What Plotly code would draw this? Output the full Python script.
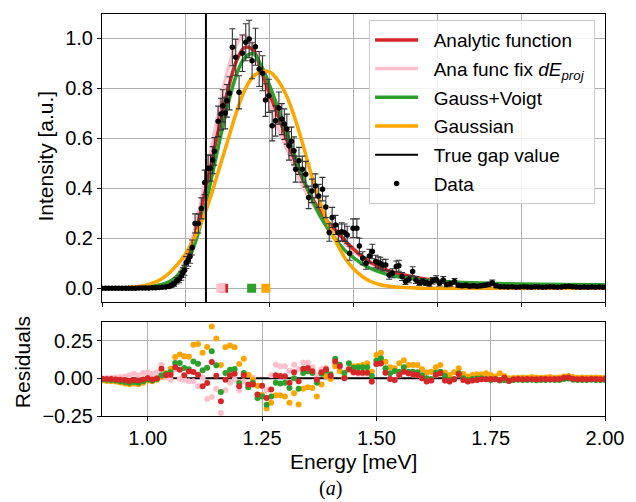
import plotly.graph_objects as go

# ---------------- data (main panel) ----------------
data_energy = [0.800, 0.808, 0.816, 0.824, 0.832, 0.840, 0.848, 0.856, 0.864, 0.872, 0.880, 0.888,
               0.896, 0.904, 0.912, 0.920, 0.928, 0.936, 0.944, 0.952, 0.960, 0.966, 0.972, 0.978,
               0.984, 0.989, 0.993, 0.997, 1.001, 1.006, 1.010, 1.015, 1.022, 1.030, 1.037, 1.045,
               1.053, 1.059, 1.064, 1.068, 1.077, 1.084, 1.088, 1.094, 1.098, 1.104, 1.111, 1.119,
               1.127, 1.135, 1.143, 1.151, 1.158, 1.166, 1.175, 1.183, 1.190, 1.198, 1.206, 1.214,
               1.222, 1.229, 1.235, 1.241, 1.246, 1.252, 1.258, 1.262, 1.270, 1.278, 1.286, 1.293,
               1.301, 1.309, 1.317, 1.326, 1.334, 1.342, 1.349, 1.357, 1.364, 1.372, 1.379, 1.385,
               1.391, 1.399, 1.408, 1.414, 1.422, 1.430, 1.438, 1.445, 1.453, 1.459, 1.464, 1.470,
               1.477, 1.485, 1.493, 1.502, 1.508, 1.516, 1.524, 1.532, 1.541, 1.549, 1.557, 1.565,
               1.573, 1.581, 1.589, 1.597, 1.605, 1.614, 1.622, 1.631, 1.641, 1.650, 1.659, 1.668,
               1.677, 1.686, 1.695, 1.704, 1.713, 1.722, 1.731, 1.740, 1.750, 1.760, 1.769, 1.779,
               1.788, 1.797, 1.806, 1.815, 1.824, 1.833, 1.842, 1.851, 1.860, 1.869, 1.878, 1.887,
               1.896, 1.905, 1.914, 1.923, 1.932, 1.941, 1.950, 1.959, 1.968, 1.977, 1.986, 1.995]
data_intensity = [0.000, 0.000, 0.000, 0.000, 0.000, 0.000, 0.000, 0.000, 0.000, 0.000, 0.000, 0.001,
                  0.001, 0.001, 0.001, 0.002, 0.002, 0.003, 0.004, 0.005, 0.007, 0.012, 0.018, 0.030,
                  0.036, 0.049, 0.063, 0.072, 0.103, 0.113, 0.127, 0.163, 0.259, 0.259, 0.319, 0.423,
                  0.480, 0.480, 0.512, 0.547, 0.667, 0.696, 0.729, 0.700, 0.749, 0.779, 0.963, 0.923,
                  0.783, 0.939, 0.983, 0.996, 0.909, 0.965, 0.876, 0.859, 0.752, 0.769, 0.649, 0.669,
                  0.720, 0.676, 0.656, 0.636, 0.569, 0.587, 0.549, 0.476, 0.509, 0.476, 0.456, 0.363,
                  0.389, 0.409, 0.369, 0.396, 0.325, 0.223, 0.283, 0.253, 0.222, 0.226, 0.222, 0.213,
                  0.140, 0.240, 0.240, 0.169, 0.120, 0.100, 0.129, 0.147, 0.107, 0.102, 0.100, 0.093,
                  0.093, 0.053, 0.060, 0.087, 0.090, 0.047, 0.027, 0.036, 0.067, 0.033, 0.022, 0.027,
                  0.022, 0.018, 0.030, 0.036, 0.020, 0.033, 0.015, 0.018, 0.027, 0.012, 0.010, 0.012,
                  0.008, 0.010, 0.008, 0.010, 0.012, 0.015, 0.022, 0.010, 0.006, 0.006, 0.005, 0.006,
                  0.004, 0.005, 0.006, 0.005, 0.004, 0.006, 0.005, 0.004, 0.005, 0.006, 0.005, 0.004,
                  0.005, 0.007, 0.008, 0.006, 0.005, 0.004, 0.005, 0.004, 0.005, 0.004, 0.005, 0.004]
data_error = [0.003, 0.003, 0.003, 0.003, 0.003, 0.003, 0.003, 0.003, 0.003, 0.003, 0.003, 0.003,
              0.003, 0.003, 0.003, 0.004, 0.004, 0.004, 0.005, 0.005, 0.006, 0.008, 0.010, 0.013,
              0.014, 0.017, 0.019, 0.020, 0.024, 0.025, 0.027, 0.030, 0.038, 0.038, 0.042, 0.049,
              0.052, 0.052, 0.054, 0.055, 0.061, 0.063, 0.064, 0.063, 0.065, 0.066, 0.074, 0.072,
              0.066, 0.073, 0.074, 0.075, 0.072, 0.074, 0.070, 0.070, 0.065, 0.066, 0.060, 0.061,
              0.064, 0.062, 0.061, 0.060, 0.057, 0.057, 0.056, 0.052, 0.054, 0.052, 0.051, 0.045,
              0.047, 0.048, 0.046, 0.047, 0.043, 0.035, 0.040, 0.038, 0.035, 0.036, 0.035, 0.035,
              0.028, 0.037, 0.037, 0.031, 0.026, 0.024, 0.027, 0.029, 0.025, 0.024, 0.024, 0.023,
              0.023, 0.017, 0.018, 0.022, 0.022, 0.016, 0.012, 0.014, 0.019, 0.014, 0.011, 0.012,
              0.011, 0.010, 0.013, 0.014, 0.011, 0.014, 0.009, 0.010, 0.012, 0.008, 0.008, 0.008,
              0.007, 0.008, 0.007, 0.008, 0.008, 0.009, 0.011, 0.008, 0.006, 0.006, 0.005, 0.006,
              0.005, 0.005, 0.006, 0.005, 0.005, 0.006, 0.005, 0.005, 0.005, 0.006, 0.005, 0.005,
              0.005, 0.006, 0.006, 0.006, 0.005, 0.005, 0.005, 0.005, 0.005, 0.005, 0.005, 0.005]

# ---------------- fitted curves (sampled) ----------------
fit_energy = [0.80, 0.85, 0.90, 0.92, 0.94, 0.96, 0.98, 1.00, 1.02, 1.04, 1.06, 1.08, 1.10, 1.12,
              1.14, 1.16, 1.18, 1.20, 1.22, 1.24, 1.26, 1.28, 1.30, 1.32, 1.34, 1.36, 1.38, 1.40,
              1.42, 1.44, 1.46, 1.48, 1.50, 1.55, 1.60, 1.65, 1.70, 1.80, 1.90, 2.00]
fit_analytic = [0.000, 0.000, 0.002, 0.005, 0.010, 0.020, 0.045, 0.100, 0.200, 0.340, 0.490, 0.650,
                0.790, 0.905, 0.962, 0.952, 0.870, 0.777, 0.690, 0.597, 0.510, 0.433, 0.366, 0.308,
                0.262, 0.228, 0.190, 0.157, 0.128, 0.104, 0.087, 0.072, 0.062, 0.043, 0.030, 0.022,
                0.017, 0.012, 0.010, 0.009]
fit_ana_fix = [0.000, 0.000, 0.002, 0.006, 0.012, 0.024, 0.053, 0.118, 0.228, 0.378, 0.552, 0.722,
               0.872, 0.972, 1.012, 0.968, 0.862, 0.745, 0.640, 0.560, 0.482, 0.405, 0.343, 0.288,
               0.248, 0.215, 0.180, 0.150, 0.123, 0.100, 0.084, 0.070, 0.060, 0.042, 0.029, 0.021,
               0.016, 0.011, 0.009, 0.008]
fit_gauss_voigt = [0.000, 0.001, 0.004, 0.008, 0.014, 0.026, 0.050, 0.095, 0.170, 0.285, 0.430, 0.585,
                   0.730, 0.850, 0.920, 0.938, 0.890, 0.810, 0.720, 0.625, 0.530, 0.440, 0.360, 0.290,
                   0.235, 0.190, 0.150, 0.122, 0.098, 0.080, 0.066, 0.056, 0.048, 0.036, 0.029, 0.024,
                   0.021, 0.017, 0.015, 0.014]
fit_gaussian = [0.000, 0.002, 0.010, 0.020, 0.035, 0.060, 0.095, 0.140, 0.200, 0.275, 0.370, 0.480,
                0.590, 0.700, 0.790, 0.845, 0.866, 0.865, 0.830, 0.770, 0.680, 0.570, 0.450, 0.345,
                0.255, 0.180, 0.120, 0.078, 0.048, 0.028, 0.016, 0.009, 0.005, 0.001, 0.000, 0.000,
                0.000, 0.000, 0.000, 0.000]

true_gap = 1.048
gap_names = ["Analytic function", "Ana func fix", "Gauss+Voigt", "Gaussian"]
gap_fitted = [1.090, 1.0835, 1.157, 1.191]

# ---------------- residuals ----------------
res_energy = [round(0.90 + 0.01 * i, 2) for i in range(111)]
res_gaussian = [-0.015, -0.018, -0.020, -0.022, -0.028, -0.035, -0.040, -0.035, -0.040, -0.030, -0.015, -0.020, -0.010,
                0.010, 0.035, 0.064, 0.141, 0.157, 0.146, 0.143, 0.223, 0.227, 0.170, 0.207, 0.344, 0.263, 0.088, 0.205, 0.218, 0.205,
                0.095, 0.130, 0.024, -0.010, -0.050, -0.110, -0.200, -0.163, -0.112, -0.112, -0.120, -0.163, -0.100, -0.174, -0.069, -0.060, -0.064, -0.120, -0.042, 0.013, -0.004,
                0.080, 0.046, 0.010, 0.060, 0.080, 0.082, 0.088, 0.100, 0.044, 0.154, 0.170, 0.110, 0.073, 0.066, 0.100, 0.120, 0.088, 0.088, 0.088, 0.060, 0.038, 0.044, 0.073, 0.088, 0.038, 0.022, 0.040, 0.066, 0.029,
                0.011, 0.022, 0.026, 0.026, 0.033, 0.022, 0.011, 0.033, 0.015, 0.000,
                0.002, 0.004, 0.006, 0.004, 0.008, 0.005, 0.004, 0.006, 0.008, 0.004, 0.006, 0.012, 0.015, 0.008, 0.004, 0.006, 0.004, 0.005, 0.006, 0.004, 0.005]
res_gauss_voigt = [-0.008, -0.010, -0.012, -0.015, -0.020, -0.025, -0.030, -0.025, -0.030, -0.020, -0.008, -0.015, -0.005,
                   0.020, 0.029, 0.042, 0.101, 0.101, 0.068, 0.060, 0.112, 0.097, 0.053, 0.070, 0.179, 0.086, -0.091, 0.035, 0.057, 0.062,
                   -0.031, 0.035, -0.060, -0.030, -0.130, -0.120, -0.175, -0.120, -0.030, -0.035, -0.030, -0.065, 0.000, -0.070, 0.035, 0.046, 0.035, -0.030, 0.030, 0.050, 0.025,
                   0.130, 0.090, 0.035, 0.100, 0.070, 0.073, 0.073, 0.073, 0.015, 0.117, 0.132, 0.066, 0.033, 0.049, 0.044, 0.073, 0.044, 0.044, 0.040, 0.020, 0.000, -0.004, 0.037, 0.044, 0.015, -0.011, -0.007, 0.033, 0.000,
                   -0.011, -0.004, -0.002, 0.000, -0.004, -0.011, -0.004, -0.015, -0.011, -0.015,
                   -0.011, -0.010, -0.012, -0.011, -0.010, -0.013, -0.012, -0.011, -0.010, -0.012, -0.011, -0.004, -0.002, -0.010, -0.012, -0.011, -0.012, -0.010, -0.011, -0.012, -0.011]
res_analytic = [-0.003, -0.005, -0.005, -0.008, -0.010, -0.012, -0.018, -0.012, -0.015, -0.008, 0.002, -0.008, 0.000,
                0.064, 0.020, 0.024, 0.073, 0.057, 0.020, 0.046, 0.042, 0.024, -0.053, -0.031, 0.108, 0.017, -0.152, -0.009, 0.020, 0.030,
                -0.053, 0.020, -0.042, -0.042, -0.108, -0.050, -0.130, -0.075, 0.020, 0.015, 0.013, -0.030, 0.040, -0.020, 0.064, 0.068, 0.046, -0.010, 0.040, 0.060, 0.015,
                0.112, 0.080, 0.000, 0.060, 0.040, 0.037, 0.037, 0.037, -0.022, 0.095, 0.099, 0.037, -0.004, -0.011, 0.022, 0.044, 0.033, 0.026, 0.022, 0.000, -0.022, -0.015, 0.022, 0.033, -0.015, -0.022, -0.007, 0.026, -0.011,
                -0.022, -0.015, -0.011, -0.007, -0.007, -0.004, -0.007, -0.011, 0.004, -0.018,
                -0.007, -0.005, -0.006, -0.004, -0.006, -0.007, -0.005, -0.004, -0.006, -0.005, -0.004, 0.004, 0.006, -0.003, -0.006, -0.005, -0.006, -0.004, -0.005, -0.006, -0.005]
res_ana_fix = [0.000, 0.002, 0.004, 0.005, 0.008, 0.012, 0.020, 0.030, 0.020, 0.035, 0.042, 0.030, 0.040,
               0.090, 0.010, -0.010, 0.057, -0.005, -0.009, -0.020, -0.020, -0.053, 0.006, -0.137, -0.124, -0.071, -0.230, -0.080, -0.030, -0.010,
               -0.080, -0.020, -0.060, 0.006, -0.050, -0.050, -0.080, 0.020, 0.090, 0.080, 0.080, 0.050, 0.090, 0.060, 0.105, 0.105, 0.073, 0.020, 0.060, 0.070, 0.030,
               0.100, 0.075, 0.000, 0.055, 0.035, 0.030, 0.030, 0.030, -0.025, 0.090, 0.095, 0.035, -0.005, -0.012, 0.020, 0.040, 0.030, 0.025, 0.020, 0.000, -0.022, -0.015, 0.020, 0.030, -0.015, -0.022, -0.008, 0.025, -0.011,
               -0.022, -0.015, -0.011, -0.007, -0.007, -0.004, -0.007, -0.011, 0.004, -0.018,
               -0.007, -0.005, -0.006, -0.004, -0.006, -0.007, -0.005, -0.004, -0.006, -0.005, -0.004, 0.004, 0.006, -0.003, -0.006, -0.005, -0.006, -0.004, -0.005, -0.006, -0.005]

# ---------------- style ----------------
RED, PINK, GREEN, ORANGE = "#d62728", "#ffc0cb", "#2ca02c", "#ffa500"
MAIN_YR = [-0.055, 1.096]
RES_YR = [-0.25, 0.373]
FONT = "Liberation Sans, Arial, sans-serif"
PAD = "&nbsp;&nbsp;"

fig = go.Figure()

# curves (pink under red)
fig.add_trace(go.Scatter(x=fit_energy, y=fit_ana_fix, mode="lines",
                         name=PAD + "Ana func fix <i>dE</i><sub><i>proj</i></sub>&nbsp;",
                         line=dict(color=PINK, width=3.5, shape="spline"), legendrank=2, legendgroup="b"))
fig.add_trace(go.Scatter(x=fit_energy, y=fit_analytic, mode="lines", name=PAD + "Analytic function",
                         line=dict(color=RED, width=3.5, shape="spline"), legendrank=1, legendgroup="a"))
fig.add_trace(go.Scatter(x=fit_energy, y=fit_gauss_voigt, mode="lines", name=PAD + "Gauss+Voigt",
                         line=dict(color=GREEN, width=3.5, shape="spline"), legendrank=3, legendgroup="c"))
fig.add_trace(go.Scatter(x=fit_energy, y=fit_gaussian, mode="lines", name=PAD + "Gaussian",
                         line=dict(color=ORANGE, width=3.5, shape="spline"), legendrank=4, legendgroup="d"))
fig.add_trace(go.Scatter(x=data_energy, y=data_intensity, mode="markers", name=PAD + "Data",
                         marker=dict(color="black", size=5.5),
                         error_y=dict(type="data", array=data_error, color="#333333", thickness=1.1, width=3),
                         legendrank=6, legendgroup="f"))
fig.add_trace(go.Scatter(x=[true_gap, true_gap], y=MAIN_YR, mode="lines", name=PAD + "True gap value",
                         line=dict(color="black", width=2), legendrank=5, legendgroup="e", cliponaxis=True))
# fitted gap positions
fig.add_trace(go.Scatter(x=[gap_fitted[0], gap_fitted[1], gap_fitted[2], gap_fitted[3]], y=[0, 0, 0, 0],
                         mode="markers", showlegend=False,
                         marker=dict(symbol="square", size=9, color=[RED, PINK, GREEN, ORANGE])))

# residual panel
fig.add_trace(go.Scatter(x=[res_energy[0], res_energy[-1]], y=[0, 0], mode="lines", showlegend=False,
                         line=dict(color="black", width=2), xaxis="x2", yaxis="y2"))
for ys, col in [(res_ana_fix, PINK), (res_gaussian, ORANGE), (res_gauss_voigt, GREEN), (res_analytic, RED)]:
    fig.add_trace(go.Scatter(x=res_energy, y=ys, mode="markers", showlegend=False,
                             marker=dict(color=col, size=6), xaxis="x2", yaxis="y2"))

ax_common = dict(showline=True, linecolor="black", linewidth=1, mirror=True, ticks="outside",
                 ticklen=4, tickcolor="black", showgrid=True, gridcolor="#b0b0b0", gridwidth=1,
                 zeroline=False, tickfont=dict(size=20, color="black", family=FONT))

fig.update_layout(
    width=636, height=502, autosize=False,
    margin=dict(l=102, r=26, t=14, b=86),
    paper_bgcolor="white", plot_bgcolor="white",
    font=dict(family=FONT, color="black", size=20),
    xaxis=dict(domain=[0, 1], range=[0.8, 2.0], tick0=0.8, dtick=0.2, showticklabels=False,
               anchor="y", **ax_common),
    yaxis=dict(domain=[0.2836, 1], range=MAIN_YR, tick0=0, dtick=0.2, tickformat=".1f",
               anchor="x", **ax_common),
    xaxis2=dict(domain=[0, 1], range=[0.9, 2.0], tick0=1.0, dtick=0.25, tickformat=".2f",
                anchor="y2", **ax_common),
    yaxis2=dict(domain=[0, 0.2338], range=RES_YR, tickvals=[-0.25, 0, 0.25], tickformat=".2f",
                anchor="x2", **ax_common),
    legend=dict(x=0.531, y=0.985, xanchor="left", yanchor="top",
                bgcolor="rgba(255,255,255,0.85)", bordercolor="#cccccc", borderwidth=1,
                font=dict(size=19, family=FONT, color="black"), tracegroupgap=1, itemwidth=43),
    showlegend=True,
)

fig.add_annotation(text="Intensity [a.u.]", x=-0.112, y=0.647, xref="paper", yref="paper",
                   xanchor="center", yanchor="middle",
                   textangle=-90, showarrow=False, font=dict(size=21, family=FONT, color="black"))
fig.add_annotation(text="Residuals", x=-0.159, y=0.134, xref="paper", yref="paper",
                   xanchor="center", yanchor="middle",
                   textangle=-90, showarrow=False, font=dict(size=21, family=FONT, color="black"))
fig.add_annotation(text="Energy [meV]", x=0.5, y=-0.112, xref="paper", yref="paper",
                   xanchor="center", yanchor="middle",
                   showarrow=False, font=dict(size=21, family=FONT, color="black"))
fig.add_annotation(text="(<i>a</i>)", x=0.455, y=-0.18, xref="paper", yref="paper",
                   xanchor="center", yanchor="middle",
                   showarrow=False, font=dict(size=20, family="Liberation Serif, serif", color="black"))

fig.write_html("out.html")
